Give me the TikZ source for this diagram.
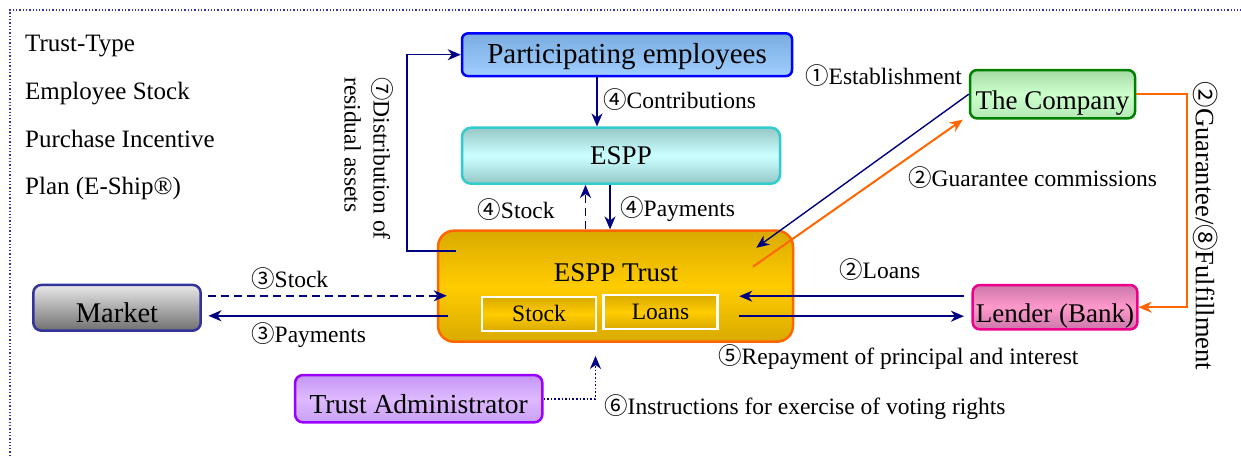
\documentclass[tikz,border=0pt]{standalone}
\usepackage{fontspec}
\setmainfont{Liberation Serif}
\newfontfamily\circfont{Noto Sans CJK JP}
\newcommand{\cn}[1]{{\circfont #1}}
\usetikzlibrary{arrows.meta,calc}

\definecolor{navyline}{RGB}{0,0,128}
\definecolor{orangeline}{RGB}{255,102,0}
\definecolor{framecol}{RGB}{51,51,170}
\definecolor{gold1}{RGB}{217,170,0}
\definecolor{gold2}{RGB}{255,204,0}

\begin{document}
\begin{tikzpicture}[x=1pt,y=1pt,
  box/.style={draw,rounded corners=7pt,line width=2.5pt,inner sep=2pt,
    font=\fontsize{27}{30}\selectfont},
  lowtext/.style={text height=34pt,text depth=4pt},
  subbox/.style={draw=white,line width=2.5pt,top color=gold1,bottom color=gold1,
    middle color=gold2,minimum width=114pt,minimum height=34pt,inner sep=0pt,
    font=\fontsize{23.5}{26}\selectfont},
  lbl/.style={inner sep=0pt,font=\fontsize{23.5}{29}\selectfont},
  arr/.style={-{Stealth[length=13pt,width=11pt,inset=4pt]},line width=1.6pt,navyline},
  oarr/.style={arr,orangeline,line width=2pt},
  dashline/.style={dash pattern=on 8pt off 5pt}]
\useasboundingbox (0,0) rectangle (1241,456);
\draw[framecol,dotted,line width=1.3pt] (10,0) -- (10,446) -- (1241,446);

 % title
  \foreach \txt [count=\i] in {Trust-Type,Employee Stock,Purchase Incentive,Plan (E-Ship®)}
    \node (intro\i) at (25,{404.3-47.7*(\i-1)}) [anchor=base west,inner sep=0pt,
      font=\fontsize{25}{30}\selectfont] {\txt};

 % boxes
  \node (emp) at (627,401.3) [box,draw=blue,top color={rgb,255:red,122;green,172;blue,224},
    bottom color={rgb,255:red,160;green,207;blue,255},minimum width=330pt,minimum height=42.7pt,
    rounded corners=6pt,text height=24pt,text depth=6pt,font=\fontsize{29}{32}\selectfont]
    {Participating employees};
  \node (espp) at (621,300.3) [box,draw={rgb,255:red,51;green,204;blue,204},
    top color={rgb,255:red,150;green,200;blue,200},bottom color={rgb,255:red,150;green,200;blue,200},
    middle color={rgb,255:red,204;green,255;blue,255},minimum width=318pt,minimum height=56pt,
    rounded corners=9pt] {ESPP};
  \node (trust) at (615.5,169.8) [box,draw=orangeline,top color=gold1,bottom color=gold1,
    middle color=gold2,minimum width=355pt,minimum height=111pt,rounded corners=16pt] {};
  \node (trustlbl) at (616,183) [inner sep=0pt,font=\fontsize{27}{30}\selectfont] {ESPP Trust};
  \node (stk) at (539,142.1) [subbox] {Stock};
  \node (lns) at (660.5,143.8) [subbox] {Loans};
  \node (company) at (1052.5,361.8) [box,lowtext,draw={rgb,255:red,0;green,128;blue,0},
    top color={rgb,255:red,165;green,218;blue,165},bottom color={rgb,255:red,180;green,232;blue,180},
    middle color={rgb,255:red,204;green,255;blue,204},minimum width=165pt,minimum height=48.3pt]
    {The Company};
  \node (market) at (117,148.2) [box,lowtext,draw={rgb,255:red,51;green,51;blue,153},
    top color={rgb,255:red,232;green,232;blue,232},bottom color={rgb,255:red,112;green,112;blue,112},
    minimum width=167.4pt,minimum height=45.7pt,rounded corners=8pt,
    font=\fontsize{28.5}{30}\selectfont] {Market};
  \node (lender) at (1055,148.8) [box,lowtext,draw=magenta,
    top color={rgb,255:red,204;green,119;blue,170},bottom color={rgb,255:red,204;green,119;blue,170},
    middle color={rgb,255:red,255;green,153;blue,204},minimum width=164.6pt,minimum height=44.3pt]
    {Lender (Bank)};
  \node (admin) at (418.7,57.3) [box,lowtext,draw={rgb,255:red,153;green,0;blue,255},
    top color={rgb,255:red,196;green,150;blue,245},bottom color={rgb,255:red,200;green,160;blue,245},
    middle color={rgb,255:red,222;green,185;blue,255},minimum width=247.3pt,minimum height=47.3pt,
    rounded corners=8pt,font=\fontsize{27.5}{30}\selectfont] {Trust Administrator};
  \coordinate (dstart) at (456,205);

 % arrows
  \draw[arr] ([xshift=-30pt]emp.south) -- ([xshift=-30pt]emp.south |- espp.north);
  \draw[arr,dashline] ([xshift=-30pt]trust.north) -- ([xshift=-30pt]trust.north |- espp.south);
  \draw[arr] ([xshift=-5.5pt]trust.north |- espp.south) -- ([xshift=-5.5pt]trust.north);
  \draw[arr] (dstart) -| ([xshift=-54pt]emp.west) -- (emp.west);
  \draw[arr,dashline] ($(market.east)+(6,12)$) -- ($(market.east -| trust.west)+(10,12)$);
  \draw[arr] ($(market.east -| trust.west)+(11,-8)$) -- ($(market.east)+(6.5,-8)$);
  \draw[arr] ($(lender.west)+(-7.5,11)$) -- ($(lender.west -| trust.east)+(-55,11)$);
  \draw[arr] ($(lender.west -| trust.east)+(-55,-9)$) -- ($(lender.west)+(-7.5,-9)$);
  \draw[arr,dotted] (admin.east) -| ($(trust.south)+(-20,-13)$);
  \draw[arr,line width=1.4pt] (company.west) -- ($(trust.north east)+(-38,-18.3)$);
  \draw[oarr] ($(trust.north east)+(-41.3,-37.3)$) -- ($(company.south west)+(-6,0)$);
  \draw[oarr] (company.east) -- ++(51,0) |- (lender.east);

 % labels
  \node (lcontr) at (603,356) [lbl,anchor=west] {\cn{④}Contributions};
  \node (lstk) at (516,246) [lbl] {\cn{④}Stock};
  \node (lpay) at (620,247) [lbl,anchor=west] {\cn{④}Payments};
  \node (ldist) at (369,297.5) [lbl,rotate=-90,align=left]
    {\cn{⑦}Distribution of\\residual assets};
  \node (lmstk) at (251,177) [lbl,anchor=west] {\cn{③}Stock};
  \node (lmpay) at (251,121) [lbl,anchor=west] {\cn{③}Payments};
  \node (lloan) at (839,186) [lbl,anchor=west] {\cn{②}Loans};
  \node (lrepay) at (718,99.3) [lbl,anchor=west] {\cn{⑤}Repayment of principal and interest};
  \node (linstr) at (604,49.3) [lbl,anchor=west] {\cn{⑥}Instructions for exercise of voting rights};
  \node (lest) at (962,380) [lbl,anchor=east] {\cn{①}Establishment};
  \node (lguar) at (908,278) [lbl,anchor=west] {\cn{②}Guarantee commissions};
  \node (lfulf) at (1206,230) [lbl,rotate=-90,font=\fontsize{26.5}{30}\selectfont]
    {\cn{②}Guarantee/\cn{⑧}Fulfillment};
\end{tikzpicture}
\end{document}
